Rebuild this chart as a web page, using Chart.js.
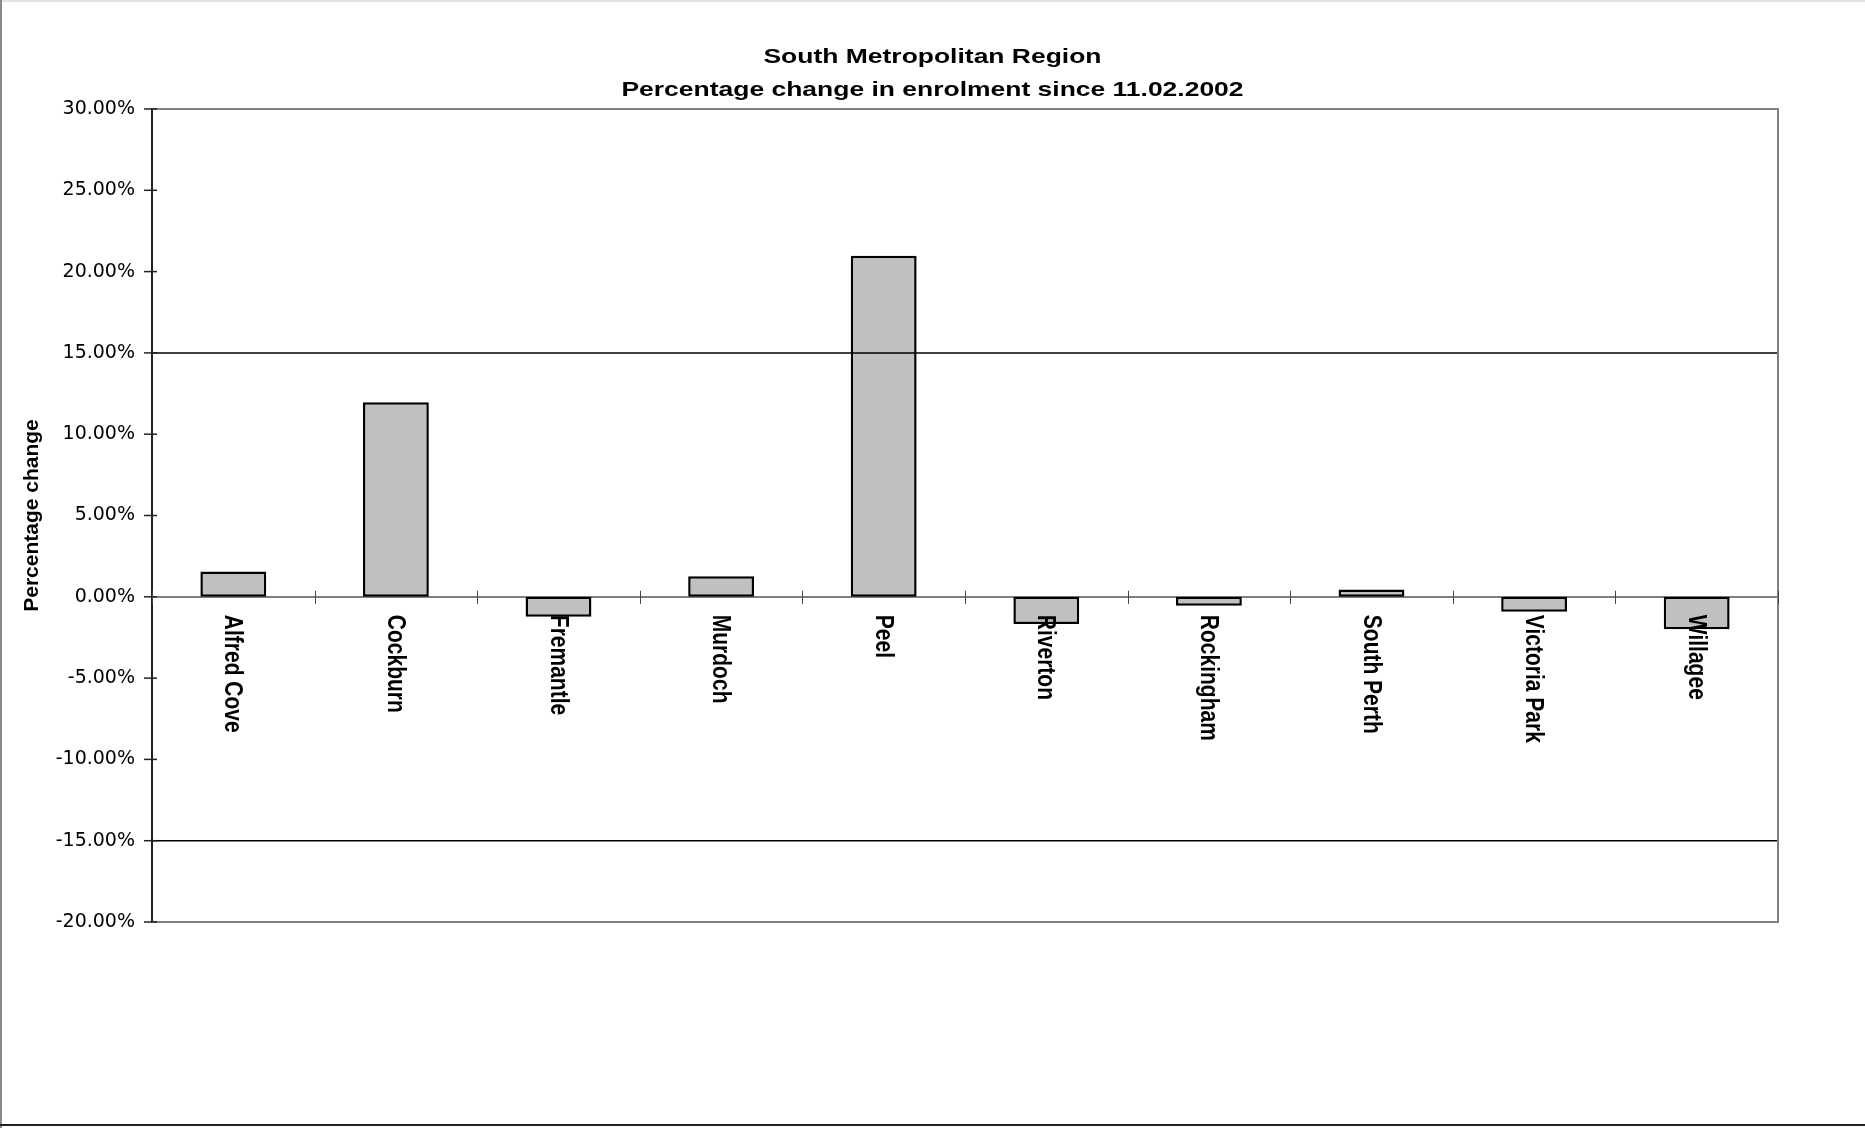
<!DOCTYPE html>
<html lang="en">
<head>
  <meta charset="UTF-8">
  <title>South Metropolitan Region</title>
  <script src="https://cdn.jsdelivr.net/npm/chart.js"></script>
  <style>
    html, body {
      margin: 0;
      padding: 0;
      background: #fff;
    }

    .chart-container {
      width: 1865px;
      height: 1128px;
    }

    canvas {
      display: block;
    }
  </style>
</head>
<body>

<div class="chart-container">
  <canvas id="enrolChart" width="1865" height="1128"></canvas>
</div>

<script>
// data
const districts = ['Alfred Cove', 'Cockburn', 'Fremantle', 'Murdoch', 'Peel', 'Riverton', 'Rockingham', 'South Perth', 'Victoria Park', 'Willagee'];
const pctChange = [1.55, 11.97, -1.23, 1.27, 20.97, -1.68, -0.55, 0.45, -0.92, -2.0];
const titleLines = ['South Metropolitan Region', 'Percentage change in enrolment since 11.02.2002'];
const refLines = [15, -15];
const yMin = -20;
const yMax = 30;
const yStep = 5;

function hLine(ctx, x1, y1, x2, y2) {
  ctx.beginPath();
  ctx.moveTo(x1, y1);
  ctx.lineTo(x2, y2);
  ctx.stroke();
}

const decor = {
  id: 'decor',
  beforeDraw(chart) {
    const { ctx, width, height } = chart;
    ctx.save();
    ctx.fillStyle = '#fff';
    ctx.fillRect(0, 0, width, height);
    ctx.lineWidth = 2;
    ctx.strokeStyle = '#e4e4e4';
    hLine(ctx, 0, 1, width, 1);
    ctx.strokeStyle = '#8a8a8a';
    hLine(ctx, 1, 0, 1, height);
    ctx.strokeStyle = '#222';
    hLine(ctx, 0, height - 3, width, height - 3);
    ctx.restore();
  },
  afterDatasetsDraw(chart) {
    const { ctx, chartArea: a, scales: { y } } = chart;
    ctx.save();
    ctx.strokeStyle = '#000';
    ctx.lineWidth = 1.5;
    refLines.forEach(v => {
      const py = y.getPixelForValue(v);
      hLine(ctx, a.left, py, a.right, py);
    });
    ctx.restore();
  },
  afterDraw(chart) {
    const { ctx, chartArea: a, scales: { x, y } } = chart;
    ctx.save();

    // plot area frame (top, right, bottom)
    ctx.strokeStyle = '#808080';
    ctx.lineWidth = 2;
    ctx.beginPath();
    ctx.moveTo(a.left, a.top);
    ctx.lineTo(a.right, a.top);
    ctx.lineTo(a.right, a.bottom);
    ctx.lineTo(a.left, a.bottom);
    ctx.stroke();

    // y ticks crossing the axis
    ctx.strokeStyle = '#222';
    ctx.lineWidth = 1.5;
    y.ticks.forEach(t => {
      const py = y.getPixelForValue(t.value);
      hLine(ctx, a.left - 8, py, a.left + 5, py);
    });

    // category boundary ticks on the zero line
    const zero = y.getPixelForValue(0);
    ctx.strokeStyle = '#444';
    ctx.lineWidth = 1;
    for (let i = 0; i <= districts.length; i++) {
      const px = Math.round(x.getPixelForValue(i - 0.5)) + 0.5;
      hLine(ctx, px, zero - 6, px, zero + 7);
    }

    // category labels, rotated to read downwards
    ctx.fillStyle = '#000';
    ctx.font = 'bold 21px "Liberation Sans", Arial, sans-serif';
    ctx.textAlign = 'left';
    ctx.textBaseline = 'middle';
    districts.forEach((name, i) => {
      ctx.save();
      ctx.translate(x.getPixelForValue(i) - 1, zero + 18);
      ctx.scale(1.2, 1);
      ctx.rotate(Math.PI / 2);
      ctx.fillText(name, 0, 0);
      ctx.restore();
    });

    // chart title
    ctx.font = 'bold 21px "Liberation Sans", Arial, sans-serif';
    ctx.textAlign = 'center';
    ctx.textBaseline = 'alphabetic';
    titleLines.forEach((line, i) => {
      ctx.save();
      ctx.translate(chart.width / 2, a.top - 46.5 + i * 33);
      ctx.scale(1.26, 1);
      ctx.fillText(line, 0, 0);
      ctx.restore();
    });

    ctx.restore();
  }
};

const ctxChart = document.getElementById('enrolChart').getContext('2d');

const chart = new Chart(ctxChart, {
  type: 'bar',
  data: {
    labels: districts,
    datasets: [{
      label: 'Percentage change',
      data: pctChange,
      backgroundColor: '#c0c0c0',
      borderColor: '#000',
      borderWidth: 2.5,
      borderSkipped: false,
      barPercentage: 0.405,
      categoryPercentage: 1
    }]
  },
  options: {
    responsive: false,
    animation: false,
    devicePixelRatio: 1,
    layout: {
      padding: { top: 109, right: 87, bottom: 206, left: 2 }
    },
    scales: {
      x: {
        type: 'category',
        position: { y: 0 },
        grid: { display: false },
        ticks: { display: false },
        border: { display: true, color: '#808080', width: 2 }
      },
      y: {
        min: yMin,
        max: yMax,
        grid: { display: false, drawTicks: false },
        border: { display: true, color: '#222', width: 2 },
        ticks: {
          stepSize: yStep,
          padding: 17,
          color: '#000',
          font: { family: '"DejaVu Sans"', size: 19 },
          callback: v => v.toFixed(2) + '%'
        },
        title: {
          display: true,
          text: 'Percentage change',
          color: '#000',
          font: { family: '"Liberation Sans"', size: 21, weight: 'bold' },
          padding: { top: 18, bottom: 0 }
        },
        afterFit(scale) {
          scale.width = 150;
        }
      }
    },
    plugins: {
      legend: { display: false },
      tooltip: { enabled: false },
      title: { display: false }
    }
  },
  plugins: [decor]
});
</script>

</body>
</html>
